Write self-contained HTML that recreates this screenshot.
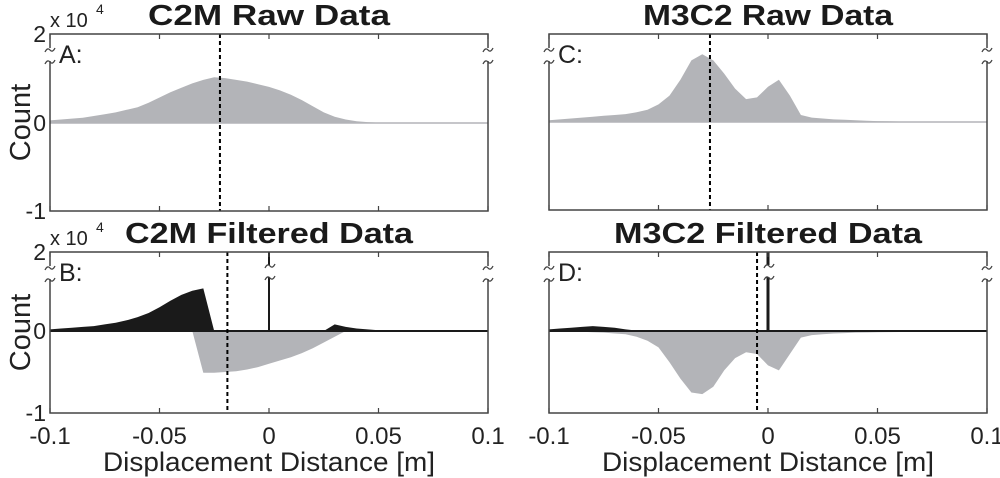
<!DOCTYPE html>
<html><head><meta charset="utf-8"><style>
body{margin:0;background:#fff;}
svg{display:block;font-family:"Liberation Sans",Arial,sans-serif;}
</style></head><body>
<svg id="fig" width="1000" height="478" viewBox="0 0 1000 478" xmlns="http://www.w3.org/2000/svg"></svg>
<script>
const xs = [];
for (let i = 0; i <= 40; i++) xs.push(-0.1 + i * 0.005);
// values in units of 1e4 counts, one per bin (x = -0.1 .. 0.1 step 0.005)
const aRaw = [0.03,0.04,0.05,0.06,0.08,0.10,0.12,0.15,0.18,0.23,0.29,0.35,0.40,0.45,0.49,0.52,0.51,0.49,0.47,0.44,0.41,0.37,0.32,0.26,0.19,0.12,0.07,0.04,0.02,0.01,0.005,0.005,0.004,0.004,0.003,0.003,0.003,0.002,0.002,0.002,0.002];
const cRaw = [0.02,0.03,0.04,0.05,0.06,0.07,0.08,0.09,0.11,0.14,0.20,0.30,0.48,0.70,0.77,0.70,0.55,0.38,0.26,0.28,0.40,0.48,0.30,0.08,0.05,0.04,0.03,0.025,0.02,0.015,0.01,0.008,0.006,0.005,0.005,0.005,0.005,0.005,0.005,0.005,0.005];
const bPos = [0.02,0.03,0.04,0.05,0.06,0.08,0.10,0.13,0.17,0.22,0.29,0.37,0.44,0.49,0.52,0,0,0,0,0,0,0,0,0,0,0,0.08,0.05,0.03,0.02,0.01,0.005,0.005,0.004,0.003,0.003,0.002,0.002,0.002,0.002,0.002];
const bNeg = [0,0,0,0,0,0,0,0,0,0,0,0,0,0,-0.51,-0.51,-0.50,-0.49,-0.47,-0.44,-0.40,-0.36,-0.32,-0.27,-0.21,-0.14,-0.07,0,0,0,0,0,0,0,0,0,0,0,0,0,0];
const dPos = [0.02,0.03,0.04,0.05,0.06,0.05,0.04,0.02,0.005,0,0,0,0,0,0,0,0,0,0,0,0,0,0,0,0,0,0,0,0,0,0,0,0,0,0,0,0,0,0,0,0];
const dNeg = [0,-0.005,-0.01,-0.01,-0.015,-0.02,-0.03,-0.04,-0.07,-0.12,-0.20,-0.38,-0.58,-0.75,-0.77,-0.68,-0.48,-0.33,-0.26,-0.28,-0.42,-0.48,-0.28,-0.08,-0.05,-0.04,-0.03,-0.025,-0.02,-0.018,-0.015,-0.013,-0.012,-0.01,-0.01,-0.01,-0.01,-0.01,-0.01,-0.01,-0.01];
const meanLines = [-0.0224, -0.019, -0.0265, -0.005];
const xTicks = [-0.1, -0.05, 0, 0.05, 0.1];
const xTickLabels = ["-0.1","-0.05","0","0.05","0.1"];
const yTickLabels = ["2","0","-1"];
const titles = ["C2M Raw Data","C2M Filtered Data","M3C2 Raw Data","M3C2 Filtered Data"];
const titleWidths = [242, 288, 250, 308];

const NS = "http://www.w3.org/2000/svg";
const svg = document.getElementById("fig");
function el(tag, attrs, parent, text){
  const e = document.createElementNS(NS, tag);
  for (const k in attrs) e.setAttribute(k, attrs[k]);
  if (text !== undefined) e.textContent = text;
  (parent || svg).appendChild(e);
  return e;
}
const panels = [
  {id:"A", x0:50, x1:488, top:34, bot:211, zero:123, sc:88, col:0, row:0},
  {id:"B", x0:50, x1:488, top:252, bot:413, zero:331, sc:82, col:0, row:1},
  {id:"C", x0:549, x1:987, top:34, bot:210, zero:122, sc:88, col:1, row:0},
  {id:"D", x0:549, x1:987, top:252, bot:413, zero:331, sc:82, col:1, row:1}
];
const GRAY = "#b3b4b8", DARK = "#1a1a1a", AX = "#444";

function drawArea(p, g, vals, fill){
  const X = v => p.x0 + (v + 0.1) / 0.2 * (p.x1 - p.x0);
  const Y = v => Math.max(p.top + 2, Math.min(p.bot - 1, p.zero - v * p.sc));
  let d = "M" + X(xs[0]) + "," + p.zero;
  for (let i = 0; i < xs.length; i++) d += " L" + X(xs[i]).toFixed(1) + "," + Y(vals[i]).toFixed(1);
  d += " L" + X(xs[xs.length-1]) + "," + p.zero + " Z";
  return el("path", {d: d, fill: fill, stroke: "none"}, g);
}
function breakMark(g, x, y){
  el("path", {d:`M${x-5},${y+2} q2.5,-5 5,-2 q2.5,3 5,-2`, fill:"none", stroke:AX, "stroke-width":1.3}, g);
}

panels.forEach((p, pi) => {
  const g = el("g", {}, svg);
  
  
  const X = v => p.x0 + (v + 0.1) / 0.2 * (p.x1 - p.x0);
  if (p.id === "A") { const a = drawArea(p, g, aRaw, GRAY);   }
  if (p.id === "C") { const a = drawArea(p, g, cRaw, GRAY);   }
  if (p.id === "B") {
    const n = drawArea(p, g, bNeg, GRAY);  
    const q = drawArea(p, g, bPos, DARK);  
  }
  if (p.id === "D") {
    const n = drawArea(p, g, dNeg, GRAY);  
    const q = drawArea(p, g, dPos, DARK);  
  }
  const zl = el("line", {x1:p.x0, x2:p.x1, y1:p.zero, y2:p.zero, stroke: p.row ? DARK : GRAY, "stroke-width": p.row ? 2 : 1.5}, g);
   
  if (p.row === 1) {
    const sx = X(0);
    const sp = el("line", {x1:sx, x2:sx, y1:p.zero, y2:p.top, stroke:DARK, "stroke-width": p.id==="D"?3:2}, g);
     
    el("rect", {x:sx-7, y:p.top+13, width:14, height:12, fill:"#fff"}, g);
    breakMark(g, sx+1, p.top+14); breakMark(g, sx+1, p.top+26);
  }
  const mx = X(meanLines[pi]);
  const ml = el("line", {x1:mx, x2:mx, y1:p.top, y2:p.bot, stroke:"#000", "stroke-width":2, "stroke-dasharray":"4,3"}, g);
   
  const bx = el("rect", {x:p.x0, y:p.top, width:p.x1-p.x0, height:p.bot-p.top, fill:"none", stroke:AX, "stroke-width":1.5}, g);
   
  xTicks.forEach((t, i) => {
    const tx = X(t);
    el("line", {x1:tx, x2:tx, y1:p.bot, y2:p.bot-5, stroke:AX, "stroke-width":1.2}, g);
    el("line", {x1:tx, x2:tx, y1:p.top, y2:p.top+5, stroke:AX, "stroke-width":1.2}, g);
    if (p.row === 1) {
      const tl = el("text", {x:tx, y:444, "font-size":24, "text-anchor":"middle", fill:"#222"}, g, xTickLabels[i]);
       
    }
  });
  [p.x0, p.x1].forEach(bxp => {
    el("rect", {x:bxp-3, y:p.top+14, width:6, height:13, fill:"#fff"}, g);
    breakMark(g, bxp, p.top+16); breakMark(g, bxp, p.top+28);
  });
  const lt = el("text", {x:p.x0+9, y:p.top+29, "font-size":25, fill:"#222"}, g, p.id + ":");
   
  const tt = el("text", {x:(p.x0+p.x1)/2, y:p.top-9, "font-size":29, "font-weight":"bold", "text-anchor":"middle", fill:"#1a1a1a", textLength:titleWidths[pi], lengthAdjust:"spacingAndGlyphs"}, g, titles[pi]);
   
  if (p.col === 0) {
    const ys = [p.top, p.zero, p.bot];
    ys.forEach((yy, i) => {
      const yl = el("text", {x:p.x0-4, y:yy+8, "font-size":23, "text-anchor":"end", fill:"#222"}, g, yTickLabels[i]);
       
    });
    const ex = el("text", {x:p.x0, y:p.top-7, "font-size":20, fill:"#222"}, g, "x 10");
     
    el("text", {x:p.x0+46, y:p.top-20, "font-size":14, fill:"#222"}, g, "4");
    const yt = el("text", {transform:`translate(30,${(p.top+p.bot)/2}) rotate(-90)`, "font-size":29, "text-anchor":"middle", fill:"#222"}, g, "Count");
     
  }
  if (p.row === 1) {
    const xt = el("text", {x:(p.x0+p.x1)/2, y:471, "font-size":27, "text-anchor":"middle", fill:"#222", textLength:332, lengthAdjust:"spacingAndGlyphs"}, g, "Displacement Distance [m]");
     
  }
});
</script>
</body></html>
